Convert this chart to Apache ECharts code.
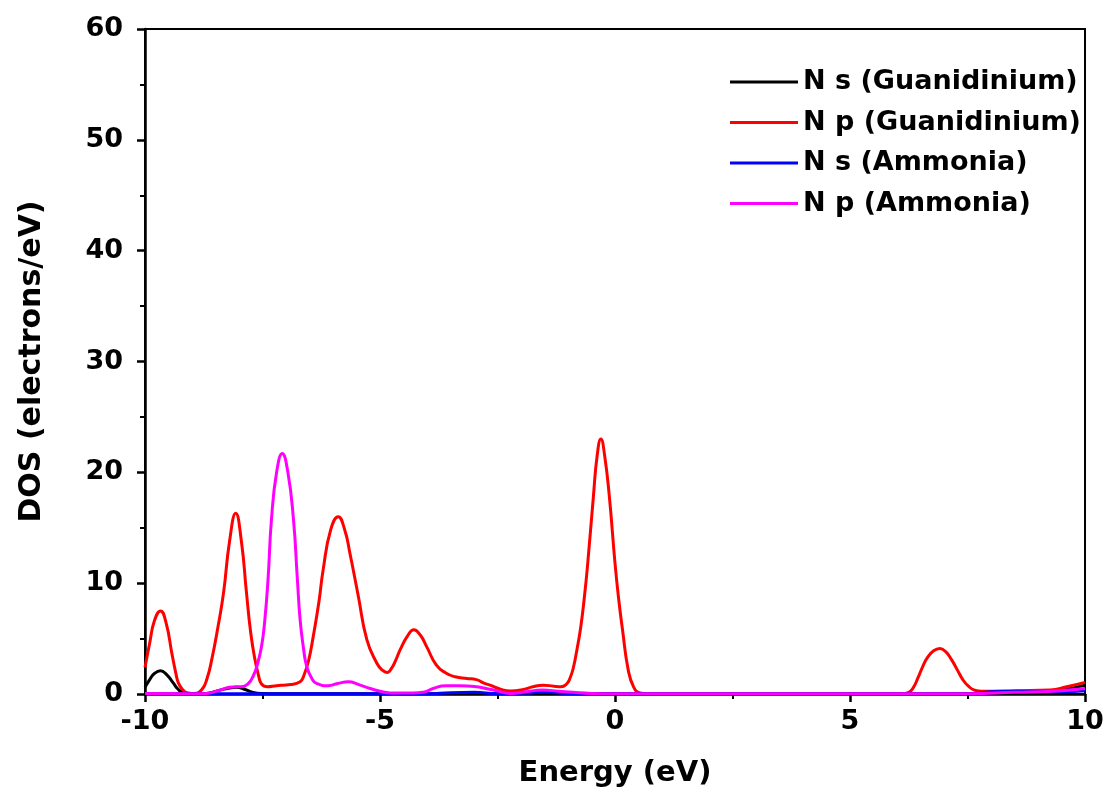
<!DOCTYPE html>
<html>
<head>
<meta charset="utf-8">
<script src="https://cdn.jsdelivr.net/npm/echarts@6/dist/echarts.min.js"></script>
<style>
html,body{margin:0;padding:0;background:#fff;}
#chart{width:1107px;height:793px;}
</style>
</head>
<body>
<div id="chart"></div>
<script>
// Series names
const seriesNames = ['N s (Guanidinium)', 'N p (Guanidinium)', 'N s (Ammonia)', 'N p (Ammonia)'];

// Axis tick values
const xTicks = [-10, -5, 0, 5, 10];
const yTicks = [0, 10, 20, 30, 40, 50, 60];

// [Energy (eV), DOS]
const nsGuan = [[-10,0.6],[-9.9,1.3],[-9.8,1.85],[-9.67,2.1],[-9.55,1.8],[-9.4,1.0],[-9.3,0.45],[-9.2,0.15],[-9.0,0.05],[-8.7,0.05],[-8.45,0.3],[-8.2,0.55],[-8.05,0.6],[-7.9,0.45],[-7.7,0.15],[-7.5,0.05],[-7,0.02],[0,0.02],[7,0.03],[8,0.06],[9,0.15],[9.4,0.3],[9.7,0.5],[10,0.8]];

const npGuan = [[-10,2.4],[-9.9,4.6],[-9.8,6.6],[-9.67,7.5],[-9.55,6.4],[-9.43,3.7],[-9.35,2.0],[-9.29,1.0],[-9.2,0.4],[-9.1,0.1],[-8.95,0.05],[-8.79,0.4],[-8.68,1.4],[-8.58,3.1],[-8.45,6.0],[-8.33,9.1],[-8.2,13.8],[-8.07,16.3],[-7.95,13.8],[-7.84,9.1],[-7.75,5.5],[-7.66,3.1],[-7.58,1.6],[-7.52,0.9],[-7.4,0.65],[-7.2,0.75],[-7.06,0.8],[-6.9,0.85],[-6.7,1.1],[-6.63,1.55],[-6.52,3.0],[-6.42,5.2],[-6.3,8.3],[-6.21,11.2],[-6.05,14.8],[-5.89,16.0],[-5.75,14.8],[-5.64,12.7],[-5.46,8.8],[-5.28,4.9],[-5.07,2.8],[-4.95,2.15],[-4.85,1.95],[-4.75,2.35],[-4.66,3.1],[-4.57,4.0],[-4.42,5.2],[-4.28,5.8],[-4.14,5.3],[-4.01,4.3],[-3.8,2.6],[-3.6,1.9],[-3.4,1.55],[-3.15,1.4],[-2.95,1.3],[-2.8,1.0],[-2.66,0.8],[-2.45,0.45],[-2.23,0.27],[-1.95,0.4],[-1.75,0.65],[-1.53,0.8],[-1.3,0.7],[-1.15,0.65],[-1.03,0.9],[-0.96,1.4],[-0.89,2.3],[-0.81,4.0],[-0.73,6.0],[-0.65,8.8],[-0.58,11.8],[-0.46,17.8],[-0.38,21.5],[-0.30,23.0],[-0.22,21.5],[-0.12,17.8],[0.0,11.8],[0.08,8.5],[0.16,5.8],[0.28,2.2],[0.4,0.6],[0.53,0.1],[0.7,0.03],[3,0.02],[6.1,0.03],[6.25,0.15],[6.35,0.6],[6.45,1.5],[6.55,2.5],[6.65,3.3],[6.78,3.9],[6.91,4.1],[7.04,3.8],[7.16,3.1],[7.28,2.2],[7.4,1.3],[7.52,0.7],[7.65,0.35],[7.8,0.25],[8.55,0.3],[9.26,0.35],[9.61,0.65],[10,1.05]];

const nsAmm = [[-10,0.02],[-4,0.02],[-3.5,0.12],[-3.0,0.15],[-2.5,0.05],[-1.8,0.1],[-1.5,0.15],[-1.0,0.05],[0,0.02],[7.5,0.03],[8,0.2],[8.5,0.25],[9,0.2],[9.5,0.2],[10,0.3]];

const npAmm = [[-10,0.05],[-9,0.03],[-8.7,0.05],[-8.45,0.3],[-8.2,0.6],[-8.05,0.65],[-7.95,0.65],[-7.8,0.95],[-7.7,1.6],[-7.62,2.5],[-7.52,4.3],[-7.45,6.7],[-7.38,10.5],[-7.31,15.7],[-7.2,20.0],[-7.08,21.7],[-6.96,20.0],[-6.84,15.7],[-6.76,10.5],[-6.70,6.7],[-6.63,4.2],[-6.56,2.5],[-6.45,1.4],[-6.35,0.95],[-6.1,0.75],[-5.9,0.95],[-5.67,1.1],[-5.45,0.85],[-5.21,0.5],[-5.0,0.25],[-4.79,0.1],[-4.3,0.08],[-4.08,0.15],[-3.87,0.5],[-3.6,0.75],[-3.3,0.75],[-2.94,0.65],[-2.7,0.45],[-2.52,0.3],[-2.23,0.05],[-1.9,0.2],[-1.55,0.35],[-1.2,0.25],[-0.9,0.15],[-0.5,0.05],[0,0.02],[7.5,0.03],[8.5,0.15],[9.3,0.25],[10,0.5]];

const colors = ['#000000', '#ff0000', '#0000ff', '#ff00ff'];
const seriesData = [nsGuan, npGuan, nsAmm, npAmm];

const FONT = 'DejaVu Sans';
const chart = echarts.init(document.getElementById('chart'), null, {renderer: 'canvas'});

chart.setOption({
  backgroundColor: '#ffffff',
  animation: false,
  grid: {left: 145, right: 22, top: 29, bottom: 99, show: true, borderColor: '#000', borderWidth: 2, backgroundColor: 'transparent'},
  legend: {
    orient: 'vertical',
    left: 725,
    top: 62,
    icon: 'rect',
    itemWidth: 68,
    itemHeight: 3,
    itemGap: 10.5,
    data: seriesNames,
    textStyle: {fontFamily: FONT, fontWeight: 'bold', fontSize: 27, color: '#000', lineHeight: 30}
  },
  xAxis: {
    type: 'value',
    min: xTicks[0],
    max: xTicks[xTicks.length - 1],
    interval: 5,
    name: 'Energy (eV)',
    nameLocation: 'middle',
    nameGap: 65,
    nameTextStyle: {fontFamily: FONT, fontWeight: 'bold', fontSize: 29, color: '#000'},
    axisLine: {show: true, onZero: false, lineStyle: {color: '#000', width: 2.5}},
    axisTick: {show: true, inside: false, length: 8, lineStyle: {color: '#000', width: 2.5}},
    minorTick: {show: true, splitNumber: 2, length: 5, lineStyle: {color: '#000', width: 2}},
    axisLabel: {fontFamily: FONT, fontWeight: 'bold', fontSize: 27, color: '#000', margin: 14},
    splitLine: {show: false}
  },
  yAxis: {
    type: 'value',
    min: yTicks[0],
    max: yTicks[yTicks.length - 1],
    interval: 10,
    name: 'DOS (electrons/eV)',
    nameLocation: 'middle',
    nameGap: 98,
    nameTextStyle: {fontFamily: FONT, fontWeight: 'bold', fontSize: 30, color: '#000'},
    axisLine: {show: true, onZero: false, lineStyle: {color: '#000', width: 2.5}},
    axisTick: {show: true, inside: false, length: 8, lineStyle: {color: '#000', width: 2.5}},
    minorTick: {show: true, splitNumber: 2, length: 5, lineStyle: {color: '#000', width: 2}},
    axisLabel: {fontFamily: FONT, fontWeight: 'bold', fontSize: 27, color: '#000', margin: 22},
    splitLine: {show: false}
  },
  series: seriesNames.map((name, i) => ({
    name: name,
    type: 'line',
    data: seriesData[i],
    smooth: 0.5,
    symbol: 'none',
    clip: true,
    lineStyle: {color: colors[i], width: 3},
    itemStyle: {color: colors[i]},
    z: 2 + i
  }))
});
</script>
</body>
</html>
